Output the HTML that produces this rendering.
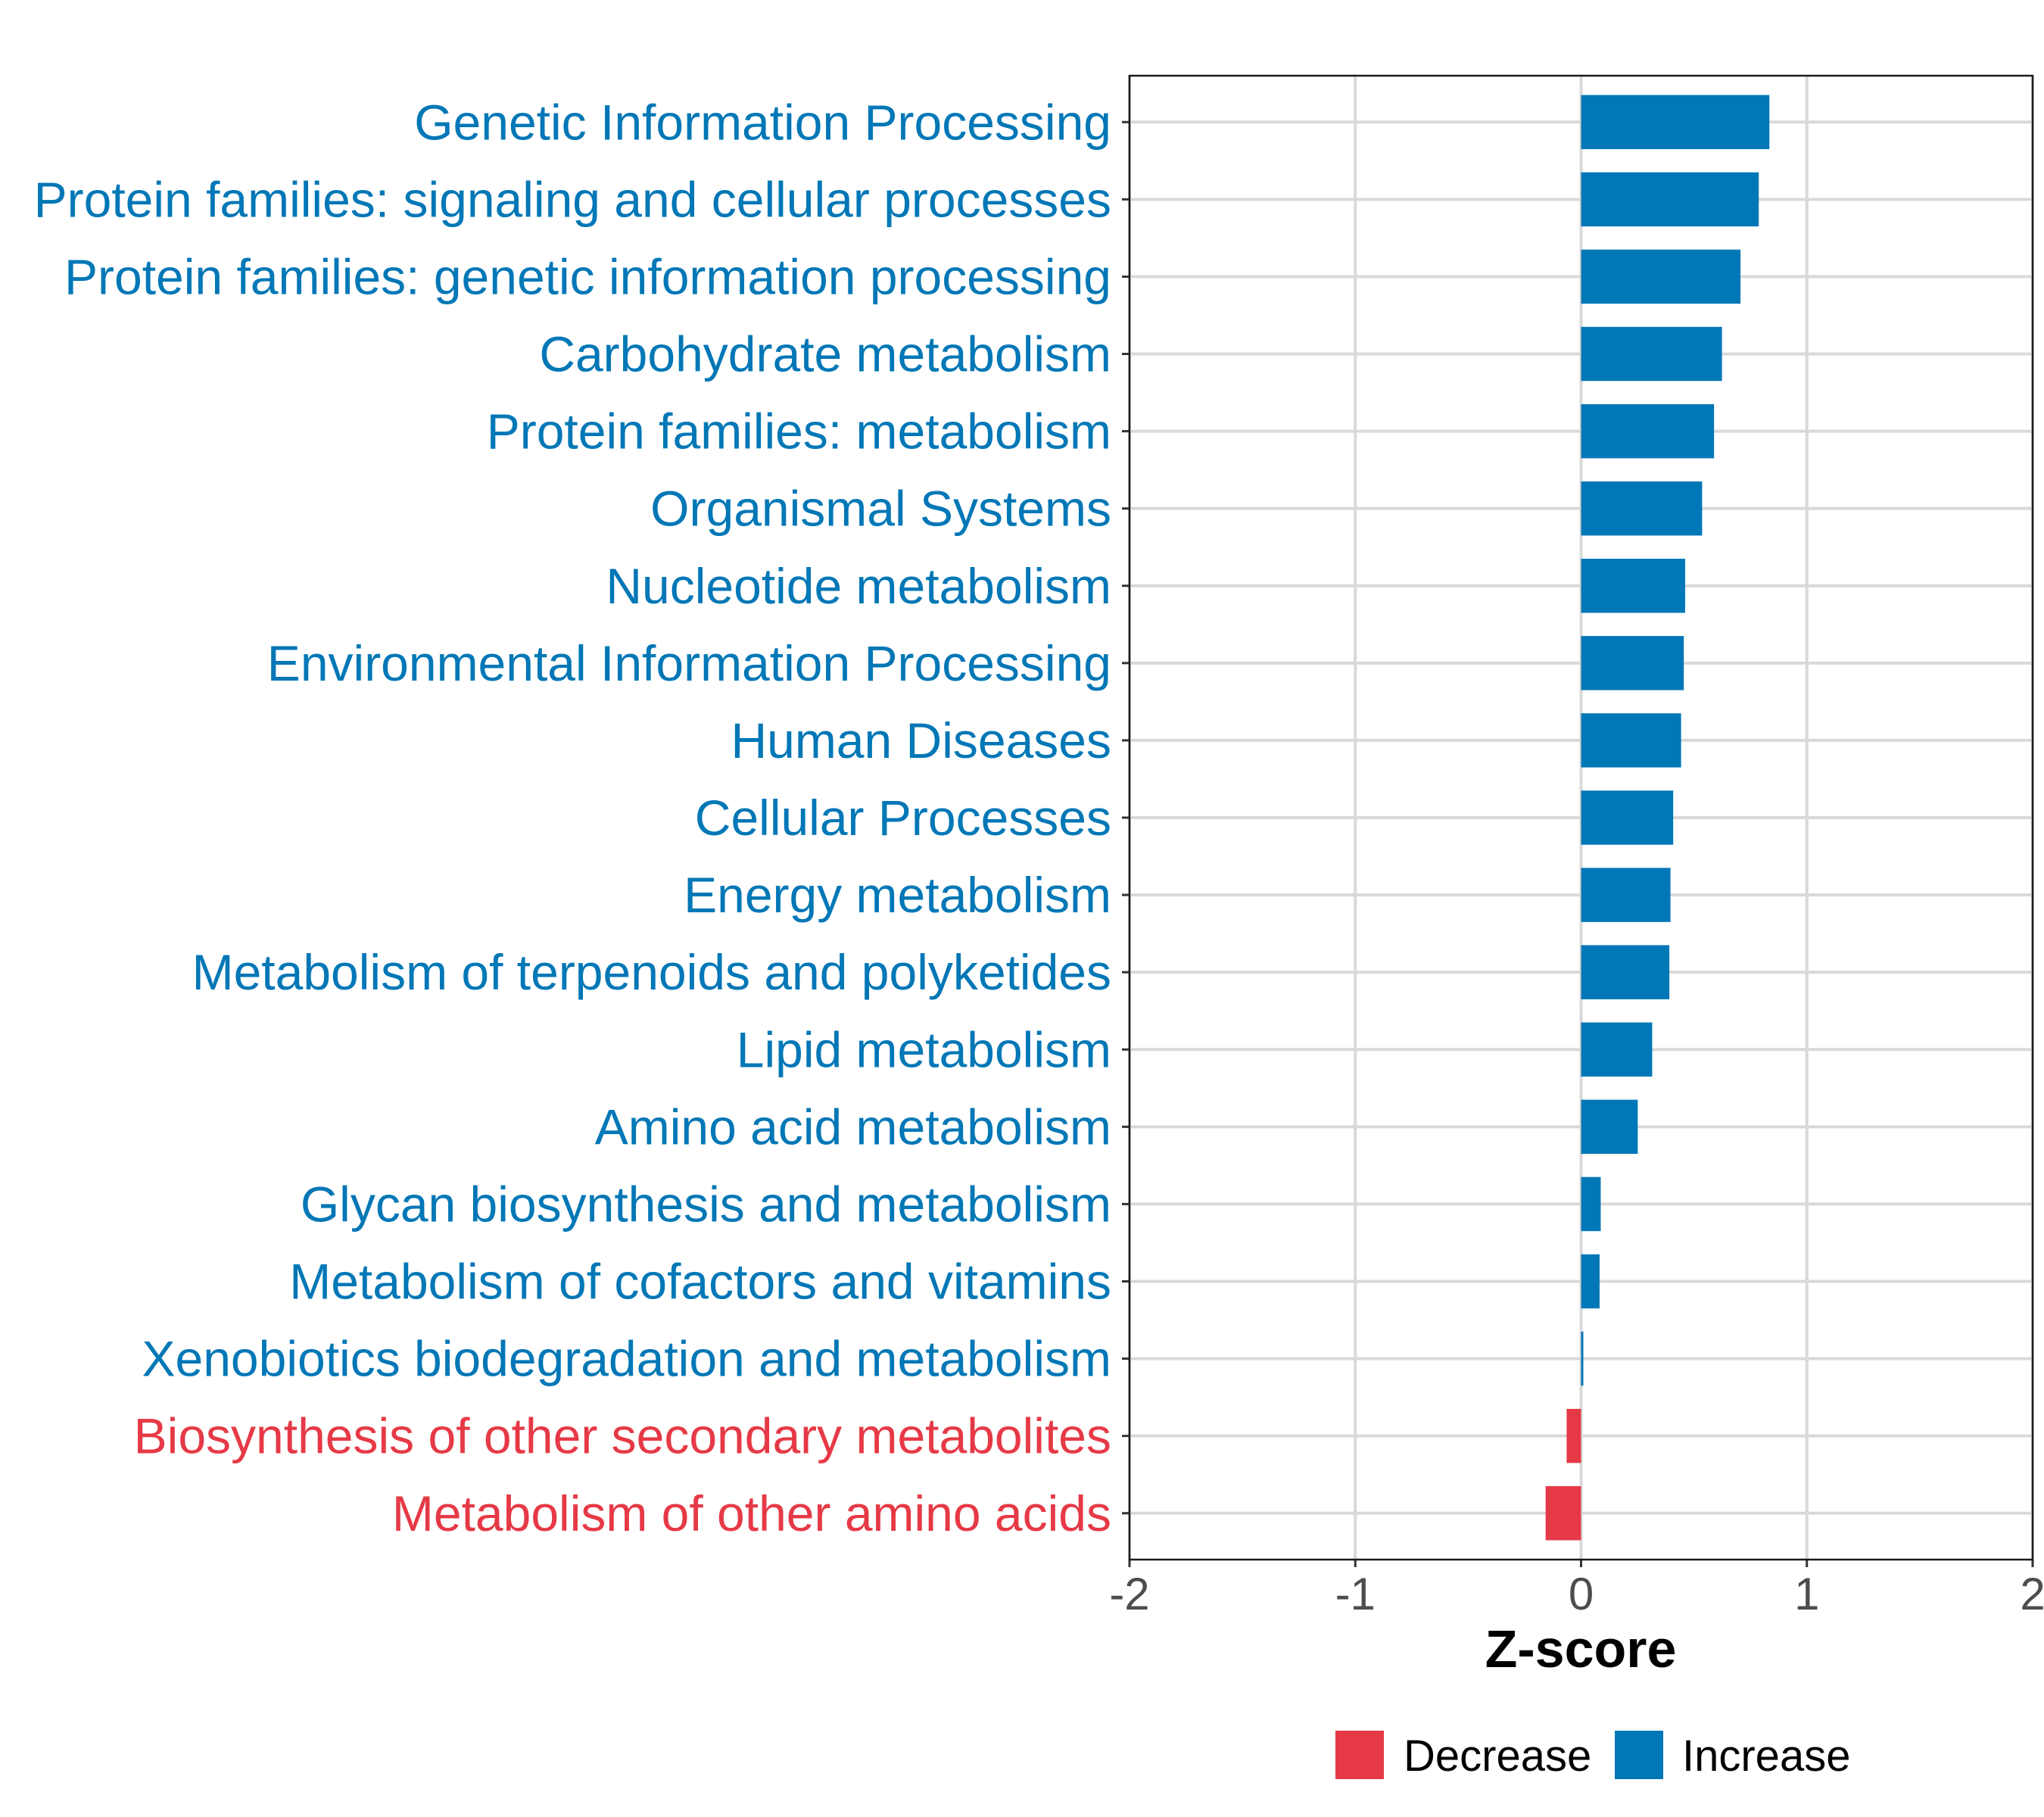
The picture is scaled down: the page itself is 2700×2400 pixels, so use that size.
<!DOCTYPE html>
<html><head><meta charset="utf-8"><style>
html,body{margin:0;padding:0;background:#fff}
svg{display:block}
text{font-family:"Liberation Sans",Arial,sans-serif}
</style></head><body>
<svg id="chart" width="2700" height="2400" viewBox="0 0 2700 2400" xmlns="http://www.w3.org/2000/svg">
<rect width="2700" height="2400" fill="#fff"/>
<g id="grid"></g>
<g id="bars"></g>
<g id="ylabels"></g>
<g id="xaxis"></g>
<rect x="1492" y="100" width="1193" height="1960" fill="none" stroke="#1a1a1a" stroke-width="2.5"/>
<text x="2088" y="2202" font-size="70" font-weight="bold" text-anchor="middle" fill="#000">Z-score</text>
<g>
<rect x="1764" y="2286" width="64" height="64" fill="#E63946"/>
<text x="1854" y="2339" font-size="58" fill="#000">Decrease</text>
<rect x="2133" y="2286" width="64" height="64" fill="#0077B6"/>
<text x="2222" y="2339" font-size="58" fill="#000">Increase</text>
</g>
</svg>
<script>
const categories = ["Genetic Information Processing","Protein families: signaling and cellular processes","Protein families: genetic information processing","Carbohydrate metabolism","Protein families: metabolism","Organismal Systems","Nucleotide metabolism","Environmental Information Processing","Human Diseases","Cellular Processes","Energy metabolism","Metabolism of terpenoids and polyketides","Lipid metabolism","Amino acid metabolism","Glycan biosynthesis and metabolism","Metabolism of cofactors and vitamins","Xenobiotics biodegradation and metabolism","Biosynthesis of other secondary metabolites","Metabolism of other amino acids"];
const zscores = [0.834,0.787,0.706,0.624,0.589,0.536,0.461,0.455,0.443,0.408,0.396,0.391,0.315,0.251,0.087,0.082,0.01,-0.064,-0.157];
const xTicks = [-2,-1,0,1,2];
const xTickLabels = ["-2","-1","0","1","2"];

const NS="http://www.w3.org/2000/svg";
const X0=1492,X1=2685,Y0=100,Y1=2060;
const xMin=-2,xMax=2;
function xs(v){return X0+(v-xMin)/(xMax-xMin)*(X1-X0);}
const n=categories.length;
const step=(Y1-Y0)/(n-1+1.2);
function ys(i){return Y0+step*(0.6+i);}
function mk(tag,attrs,parent){const e=document.createElementNS(NS,tag);for(const k in attrs)e.setAttribute(k,attrs[k]);parent.appendChild(e);return e;}
const grid=document.getElementById('grid'),bars=document.getElementById('bars'),yl=document.getElementById('ylabels'),xa=document.getElementById('xaxis');
xTicks.forEach((t,i)=>{
  const g=mk('line',{x1:xs(t),x2:xs(t),y1:Y0,y2:Y1,stroke:'#d9d9d9','stroke-width':4},grid);
  
  
  const tk=mk('line',{x1:xs(t),x2:xs(t),y1:Y1,y2:Y1+10,stroke:'#333','stroke-width':3},xa);
  
  
  const tl=mk('text',{x:xs(t),y:Y1+66,'font-size':60,'text-anchor':'middle',fill:'#4d4d4d'},xa);
  tl.textContent=xTickLabels[i];
  
  
});
categories.forEach((c,i)=>{
  const y=ys(i);
  const g=mk('line',{x1:X0,x2:X1,y1:y,y2:y,stroke:'#d9d9d9','stroke-width':4},grid);
  
  
  const v=zscores[i];
  const col=v<0?'#E63946':'#0077B6';
  const bw=step*0.7;
  const b=mk('rect',{x:Math.min(xs(0),xs(v)),y:y-bw/2,width:Math.max(Math.abs(xs(v)-xs(0)),2),height:bw,fill:col},bars);
  
  
  const tk=mk('line',{x1:X0-10,x2:X0,y1:y,y2:y,stroke:'#333','stroke-width':3},yl);
  
  
  const t=mk('text',{x:X0-24,y:y+23,'font-size':66,'text-anchor':'end',fill:col},yl);
  t.textContent=c;
  
  
});
</script>
</body></html>
